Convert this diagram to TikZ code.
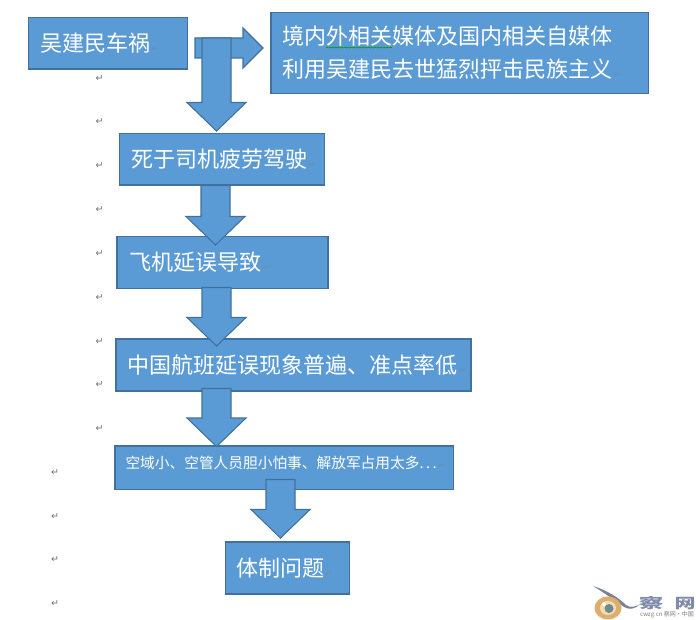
\documentclass[tikz,border=0pt]{standalone}
\usepackage{fontspec}
\setmainfont{Noto Sans CJK SC}
\newfontfamily\symfont{DejaVu Sans}
\usetikzlibrary{calc,decorations.pathmorphing}
\definecolor{boxfill}{HTML}{5B9BD5}
\definecolor{boxline}{HTML}{41719C}
\definecolor{retgrey}{HTML}{707070}
\definecolor{retblue}{HTML}{6F8CAD}
\definecolor{wmtext}{HTML}{7F8BA8}
\definecolor{wmwing}{HTML}{7C8296}
\definecolor{wmeye}{HTML}{DDAE6C}
\definecolor{wmring}{HTML}{F1DDB8}
\definecolor{wmpupil}{HTML}{6F8A88}
\newcommand{\rmk}{\hspace{1pt}{\symfont\fontsize{9}{9}\selectfont\textcolor{retblue}{↵}}}
\newcommand{\bigtxt}{\fontsize{22.05}{33}\selectfont}
\tikzset{
  flowbox/.style={draw=boxline,line width=1.1pt,fill=boxfill,text=white,anchor=north west,
    outer sep=0pt,inner xsep=0pt,inner ysep=0pt,align=left,font=\bigtxt},
  blockarrow/.style={draw=boxline,line width=1.1pt,fill=boxfill,line join=miter},
  retmark/.style={text=retgrey,font=\symfont\fontsize{9.5}{9.5}\selectfont,inner sep=0pt},
  wm/.style={inner sep=0pt,text=wmtext}
}
% block arrow pointing down, from a named top coordinate to a named tip coordinate
\newcommand{\downblock}[2]{%
  \draw[blockarrow] let \p1=(#1),\p2=(#2) in
    (\x2-14.5pt,\y1) -- (\x2+14.5pt,\y1) -- (\x2+14.5pt,\y2+28.5pt) -- (\x2+29.5pt,\y2+28.5pt)
    -- (\x2,\y2) -- (\x2-29.5pt,\y2+28.5pt) -- (\x2-14.5pt,\y2+28.5pt) -- cycle;}
\begin{document}
\begin{tikzpicture}[x=1pt,y=-1pt]
\useasboundingbox (0,0) rectangle (696,620);
\fill[white] (0,0) rectangle (696,620);

% paragraph marks
\foreach \n/\yy in {1/79,2/122,3/166,4/210,5/254,6/298,7/342,8/385,9/429}
  \node[retmark] (ra\n) at (99.5,\yy) {↵};
\foreach \n/\yy in {1/473,2/517,3/560,4/604}
  \node[retmark] (rb\n) at (55,\yy) {↵};

% boxes
\node[flowbox,minimum width=159pt,minimum height=51.5pt,text width=159pt] (n1) at (28.5,17.5)
  {\hspace*{11.5pt}吴建民车祸\rmk};
\node[flowbox,minimum width=377.5pt,minimum height=81pt,text width=377.5pt] (n2) at (271,12.5)
  {\hspace*{11pt}境内外相关媒体及国内相关自媒体\\\hspace*{11pt}利用吴建民去世猛烈抨击民族主义\rmk};
\draw[green!60!black,line width=0.6pt,decorate,decoration={snake,amplitude=0.5pt,segment length=3pt}]
  (326,47.5) -- (392,47.5);
\node[flowbox,minimum width=205pt,minimum height=51.5pt,text width=205pt] (n3) at (119.5,133.5)
  {\hspace*{11.5pt}死于司机疲劳驾驶\rmk};
\node[flowbox,minimum width=211pt,minimum height=52pt,text width=211pt] (n4) at (117,236.5)
  {\hspace*{12pt}飞机延误导致\rmk};
\node[flowbox,minimum width=355pt,minimum height=52pt,text width=355pt] (n5) at (116,339)
  {\hspace*{11pt}中国航班延误现象普遍、准点率低\rmk};
\node[flowbox,minimum width=338.5pt,minimum height=43.5pt,text width=338.5pt,font=\fontsize{14.7}{18}\selectfont,
  text height=22pt,text depth=21.5pt] (n6) at (115,446)
  {\hspace*{10.5pt}空域小、空管人员胆小怕事、解放军占用太多.\hspace{2.5pt}.\hspace{2.5pt}.\rmk};
\node[flowbox,minimum width=124pt,minimum height=52pt,text width=124pt] (n7) at (225.5,542)
  {\hspace*{11pt}体制问题\rmk};

% right arrow
\coordinate (ra0) at (195,48);
\coordinate (rat) at (263,48);
\draw[blockarrow] let \p1=(ra0),\p2=(rat) in
  (\x1,\y1+10pt) -- (\x2-20pt,\y1+10pt) -- (\x2-20pt,\y1+20pt) -- (\x2,\y2)
  -- (\x2-20pt,\y1-20pt) -- (\x2-20pt,\y1-10pt) -- (\x1,\y1-10pt) -- cycle;

% down arrows
\coordinate (a1s) at (216.5,38);
\coordinate (a1t) at (216.5,131);
\downblock{a1s}{a1t}
\coordinate (a2s) at (215.5,185.5);
\coordinate (a2t) at (215.5,245);
\downblock{a2s}{a2t}
\coordinate (a3s) at (216.5,287.5);
\coordinate (a3t) at (216.5,346);
\downblock{a3s}{a3t}
\coordinate (a4s) at (216.5,388.5);
\coordinate (a4t) at (216.5,446.5);
\downblock{a4s}{a4t}
\coordinate (a5s) at (280.5,479.5);
\coordinate (a5t) at (280.5,538);
\downblock{a5s}{a5t}

% watermark
\fill[wmwing] (593,586) .. controls (606,590) and (618,597) .. (626,605)
  .. controls (630,608) and (636,607) .. (640,604)
  .. controls (636,609) and (629,610) .. (624,607)
  .. controls (614,600) and (603,592) .. cycle;
\fill[wmeye] (608,608) ellipse (13.5pt and 11.5pt);
\fill[wmring] (608,608) ellipse (8pt and 7pt);
\fill[wmpupil] (609,608.5) circle (4.5pt);
\fill[white!90!wmring] (604,604) circle (2pt);
\node[wm,font=\fontsize{14}{14}\selectfont\bfseries] (wa) at (651,603.5) {\scalebox{1.75}[1]{察}};
\node[wm,font=\fontsize{14}{14}\selectfont\bfseries] (wb) at (685,603.5) {\scalebox{1.5}[1]{网}};
\node[wm,font=\fontsize{6}{6}\selectfont,text=gray] (wu) at (667,615) {cwzg.cn 察网·中国};
\end{tikzpicture}
\end{document}
